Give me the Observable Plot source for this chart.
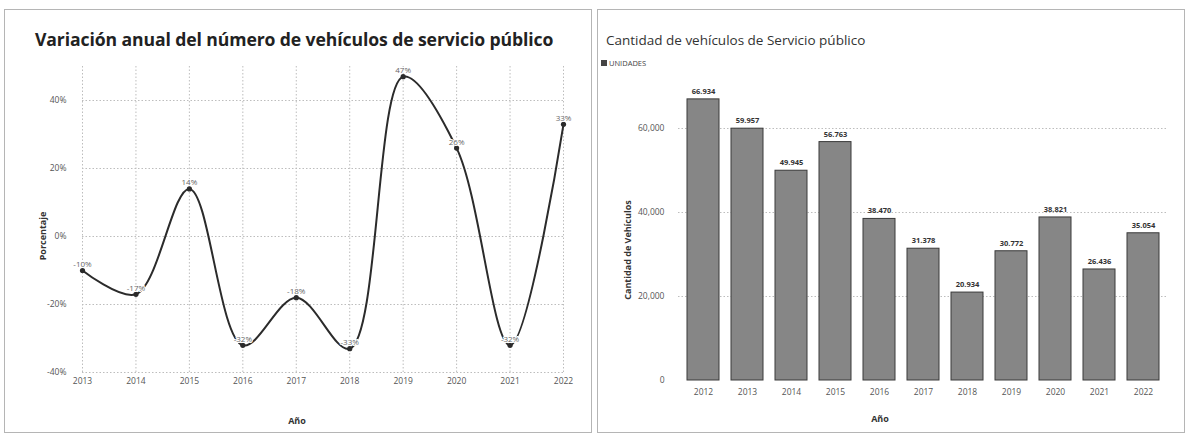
<!DOCTYPE html>
<html>
<head>
<meta charset="utf-8">
<script src="https://cdn.jsdelivr.net/npm/d3@7"></script>
<script src="https://cdn.jsdelivr.net/npm/@observablehq/plot@0.6"></script>
<style>
  html, body { margin: 0; padding: 0; background: #fff; }
  body { width: 1188px; height: 441px; position: relative; overflow: hidden; font-family: "Open Sans", sans-serif; }
  .panel { position: absolute; border: 1px solid #b5b5b5; box-sizing: border-box; }
  .abs { position: absolute; white-space: nowrap; }
  #left, #right { position: absolute; top: 0; }
  #left { left: 0; } #right { left: 594px; }
  svg { font-family: "Open Sans", sans-serif; }
</style>
</head>
<body>
<div class="panel" style="left:4px;top:9px;width:588px;height:424px;"></div>
<div class="panel" style="left:597px;top:9px;width:588px;height:424px;"></div>
<div id="left"></div>
<div id="right"></div>
<div class="abs" style="left:35px;top:27px;font-size:17.6px;font-weight:700;color:#222;letter-spacing:-0.1px;">Variación anual del número de vehículos de servicio público</div>
<div class="abs" style="top:236px;font-size:9px;font-weight:700;color:#333;transform:translate(-50%,-50%) rotate(-90deg);transform-origin:center;left:42px;">Porcentaje</div>
<div class="abs" style="left:297px;top:420px;font-size:9px;font-weight:700;color:#333;transform:translate(-50%,-50%);">Año</div>
<div class="abs" style="left:606px;top:31px;font-size:13.5px;color:#333;">Cantidad de vehículos de Servicio público</div>
<div class="abs" style="left:601px;top:58px;font-size:7.5px;color:#444;display:flex;align-items:center;gap:2px;"><span style="display:inline-block;width:6px;height:6px;background:#444;"></span><span id="legendLabel"></span></div>
<div class="abs" style="left:627px;top:250px;font-size:9px;font-weight:700;color:#333;transform:translate(-50%,-50%) rotate(-90deg);">Cantidad de Vehículos</div>
<div class="abs" style="left:880px;top:418px;font-size:9px;font-weight:700;color:#333;transform:translate(-50%,-50%);">Año</div>
<script>
// ---- data ----
const years = [2013, 2014, 2015, 2016, 2017, 2018, 2019, 2020, 2021, 2022];
const variation = [-10, -17, 14, -32, -18, -33, 47, 26, -32, 33];
const pctTicks = [-40, -20, 0, 20, 40];

const barYears = [2012, 2013, 2014, 2015, 2016, 2017, 2018, 2019, 2020, 2021, 2022];
const units = [66934, 59957, 49945, 56763, 38470, 31378, 20934, 30772, 38821, 26436, 35054];
const unitTicks = [0, 20000, 40000, 60000];
const seriesName = "UNIDADES";

document.getElementById("legendLabel").textContent = seriesName;

const lineData = years.map((y, i) => ({year: y, v: variation[i]}));
const barData = barYears.map((y, i) => ({year: y, v: units[i]}));

const grid = {stroke: "#bdbdbd", strokeOpacity: 1, strokeDasharray: "1.5,2"};

const left = Plot.plot({
  width: 594, height: 441,
  marginLeft: 82, marginRight: 31, marginTop: 66, marginBottom: 69,
  x: {domain: [2013, 2022]},
  y: {domain: [-40, 50]},
  style: {fontSize: "8px", color: "#555", background: "transparent"},
  marks: [
    Plot.gridX(years, grid),
    Plot.gridY(pctTicks, grid),
    Plot.axisX({ticks: years, tickSize: 0, tickPadding: 5, tickFormat: d => String(d), label: null, fontSize: 8.5, fill: "#555"}),
    Plot.axisY({ticks: pctTicks, tickSize: 0, tickPadding: 16, tickFormat: d => d + "%", label: null, fontSize: 8.5, fill: "#555"}),
    Plot.line(lineData, {x: "year", y: "v", curve: "catmull-rom", stroke: "#2b2b2b", strokeWidth: 2}),
    Plot.dot(lineData, {x: "year", y: "v", r: 2.6, fill: "#2b2b2b"}),
    Plot.text(lineData, {x: "year", y: "v", text: d => d.v + "%", dy: -6, fontSize: 8, fill: "#666", stroke: "white", strokeWidth: 2})
  ]
});
document.getElementById("left").appendChild(left);

const right = Plot.plot({
  width: 594, height: 441,
  marginLeft: 84, marginRight: 20, marginTop: 86, marginBottom: 61,
  x: {type: "band", domain: barYears, paddingInner: 0.28, paddingOuter: 0.14},
  y: {domain: [0, 70000]},
  style: {fontSize: "8px", color: "#555", background: "transparent"},
  marks: [
    Plot.gridY(unitTicks.filter(d => d > 0), grid),
    Plot.barY(barData, {x: "year", y: "v", fill: "#868686", stroke: "#3a3a3a", strokeWidth: 1}),
    Plot.text(barData, {x: "year", y: "v", text: d => d3.format(",")(d.v).replace(",", "."), dy: -8, fontSize: 7.5, fontWeight: "bold", fill: "#333"}),
    Plot.axisX({tickSize: 0, tickPadding: 8, tickFormat: d => String(d), label: null, fontSize: 8.5, fill: "#555"}),
    Plot.axisY({ticks: unitTicks, tickSize: 0, tickPadding: 14, tickFormat: d3.format(","), label: null, fontSize: 8.5, fill: "#555"})
  ]
});
document.getElementById("right").appendChild(right);
</script>
</body>
</html>
